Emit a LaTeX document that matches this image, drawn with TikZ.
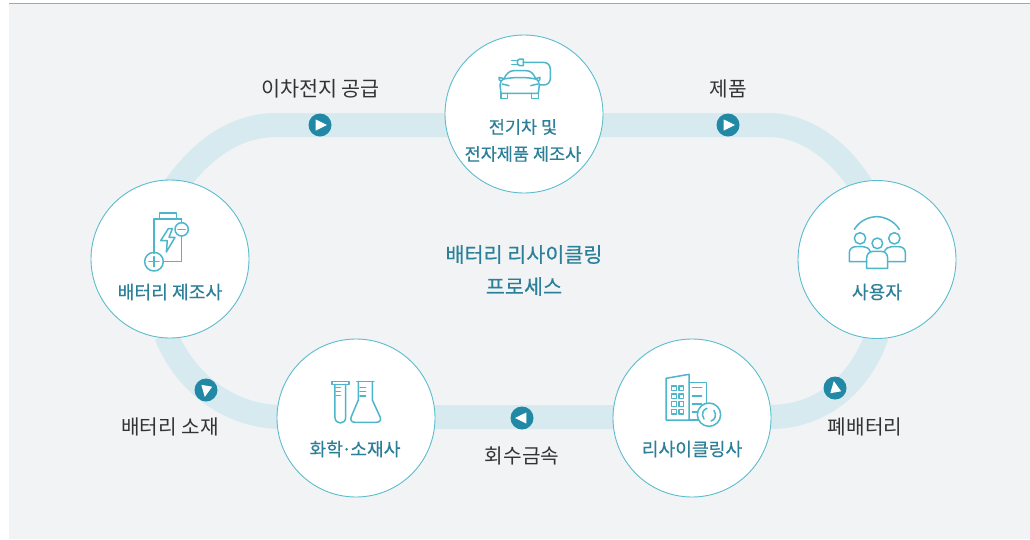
\documentclass[tikz,border=0pt]{standalone}
\usepackage{fontspec}
\setmainfont{Noto Sans CJK KR}
\newfontfamily\krm[FakeBold=0.3]{Noto Sans CJK KR}
\usetikzlibrary{calc}
\definecolor{bgc}{HTML}{F2F3F5}
\definecolor{bandc}{HTML}{D6EAEF}
\definecolor{ringc}{HTML}{5BBCCD}
\definecolor{dotc}{HTML}{2188A5}
\definecolor{labc}{HTML}{2B7F98}
\definecolor{iconc}{HTML}{4DB6CA}
\definecolor{outc}{HTML}{333333}
\tikzset{
  station/.style={circle,draw=ringc,line width=0.9pt,fill=white,minimum size=158pt,inner sep=0pt},
  stationtext/.style={text=labc,font=\krm\fontsize{18.2}{27}\selectfont,align=center,inner sep=0pt},
  toptext/.style={text=labc,font=\krm\fontsize{17.5}{27}\selectfont,align=center,inner sep=0pt},
  outtext/.style={text=outc,font=\fontsize{20.2}{24}\selectfont,inner sep=0pt},
  titletext/.style={text=labc,font=\krm\fontsize{20.7}{32}\selectfont,align=center,inner sep=0pt},
  banddraw/.style={draw=bandc,line width=24pt},
  dot/.style={circle,fill=dotc,minimum size=23pt,inner sep=0pt},
  icon/.style={draw=iconc,line width=1.5pt,line join=round,line cap=round},
  zoomed/.style={x=0.3333pt,y=-0.3333pt}
}
\newcommand{\tri}[2]{\fill[white] ([shift={(#2:7)}]#1.center) -- ([shift={(#2+128:7)}]#1.center) -- ([shift={(#2-128:7)}]#1.center) -- cycle;}
\begin{document}
\begin{tikzpicture}[x=1pt,y=-1pt]
\useasboundingbox (0,0) rectangle (1030,539);
\fill[bgc] (9,3) rectangle (1030,539);
\draw[color=black!35,line width=1pt] (9,3.5) -- (1030,3.5);

% stations
\coordinate (ctop) at (524,114);
\coordinate (cleft) at (170,259);
\coordinate (cright) at (877,259.5);
\coordinate (cbr) at (692,418);
\coordinate (cbl) at (356,418);

% band
\coordinate (tl) at (278,125);
\coordinate (tr) at (768,125);
\coordinate (bl) at (282,417);
\coordinate (br) at (770,417);
\path[banddraw]
  (tr) -- (tl) .. controls (238,125) and (205,145) .. (174,188)
  (166,335) .. controls (186,385) and (232,417) .. (bl) -- (br) .. controls (820,417) and (860,385) .. (877,335)
  (864,190) .. controls (840,150) and (805,125) .. (tr);

\node[station] (top) at (ctop) {};
\node[station] (left) at (cleft) {};
\node[station] (right) at (cright) {};
\node[station] (recycle) at (cbr) {};
\node[station] (chem) at (cbl) {};

% labels
\node[toptext] (t1) at (523,154) {전자제품 제조사};
\node[toptext] (t1b) at (523,127) {전기차 및};
\node[stationtext] (t2) at (170,292) {배터리 제조사};
\node[stationtext] (t3) at (877,292) {사용자};
\node[stationtext] (t4) at (692,449) {리사이클링사};
\node[stationtext] (t5) at (355,449) {화학\kern-1.5pt·\kern-1.5pt소재사};
\node[titletext] (title) at (524,270.5) {배터리 리사이클링\\프로세스};
\node[outtext,font=\fontsize{20.7}{24}\selectfont] (o1) at (320.5,89) {이차전지 공급};
\node[outtext] (o2) at (728,89) {제품};
\node[outtext] (o3) at (865,427) {폐배터리};
\node[outtext] (o4) at (522,456) {회수금속};
\node[outtext] (o5) at (170,427) {배터리 소재};

% direction dots
\node[dot] (d1) at (320,125) {};
\node[dot] (d2) at (728,125) {};
\node[dot] (d3) at (835,388) {};
\node[dot] (d4) at (522,418) {};
\node[dot] (d5) at (206,390) {};
\tri{d1}{0}
\tri{d2}{0}
\tri{d3}{-100}
\tri{d4}{180}
\tri{d5}{100}

% car icon
\begin{scope}[shift={(440,30)},zoomed]
\draw[icon] (183,190) -- (180,165) .. controls (180,155) and (185,150) .. (192,146) .. controls (200,130) and (208,122) .. (222,122) -- (258,122) .. controls (272,122) and (280,130) .. (287,146) .. controls (294,150) and (298,155) .. (298,165) -- (295,190) -- cycle;
\draw[icon] (183,190) -- (183,205) -- (203,205) -- (203,190);
\draw[icon] (275,190) -- (275,205) -- (295,205) -- (295,190);
\draw[icon] (192,146) -- (177,142) -- (178,150) -- (184,153);
\draw[icon] (287,146) -- (300,142) -- (299,150) -- (294,153);
\draw[icon] (192,147) .. controls (220,141) and (260,141) .. (287,147);
\draw[icon] (187,162) -- (207,167);
\draw[icon] (293,162) -- (272,167);
\draw[icon] (298,165) -- (312,165) .. controls (324,165) and (331,155) .. (331,145) -- (331,118) .. controls (331,105) and (322,97) .. (310,97) -- (250,97);
\draw[icon] (250,97) -- (250,87) -- (240,87) .. controls (234,87) and (232,92) .. (232,97) .. controls (232,102) and (234,107) .. (240,107) -- (250,107) -- cycle;
\draw[icon] (215,91) -- (232,91) (215,103) -- (232,103);
\end{scope}

% battery icon
\begin{scope}[shift={(85,200)},zoomed]
\draw[icon] (224,57) -- (224,39) -- (274,39) -- (274,57);
\draw[icon] (290,57) -- (207,57) -- (207,160);
\draw[icon] (235,184) -- (290,184) -- (290,108);
\draw[icon] (290,57) -- (290,68);
\draw[icon] (290,88) circle[radius=20];
\draw[icon] (279,88) -- (301,88);
\draw[icon] (207,185) circle[radius=28];
\draw[icon] (207,170) -- (207,200) (192,185) -- (222,185);
\draw[icon] (250,86) -- (227,122) -- (247,122) -- (244,156) -- (270,112) -- (252,112) -- (262,86) -- cycle;
\end{scope}

% people icon
\begin{scope}[shift={(795,200)},zoomed]
\draw[icon] (178,88) .. controls (195,60) and (225,50) .. (245,50) .. controls (268,50) and (297,62) .. (313,88);
\draw[icon] (195,115) circle[radius=17];
\draw[icon] (298,115) circle[radius=17];
\draw[icon] (247,130) circle[radius=16];
\draw[icon] (215,205) -- (278,205) -- (278,175) .. controls (278,162) and (270,154) .. (258,154) -- (235,154) .. controls (223,154) and (215,162) .. (215,175) -- cycle;
\draw[icon] (215,185) -- (163,185) -- (163,158) .. controls (163,147) and (172,140) .. (182,140) -- (205,140) .. controls (214,140) and (222,145) .. (226,155);
\draw[icon] (278,185) -- (331,185) -- (331,158) .. controls (331,147) and (322,140) .. (312,140) -- (290,140) .. controls (281,140) and (272,145) .. (268,155);
\end{scope}

% building icon
\begin{scope}[shift={(610,340)},zoomed]
\draw[icon] (168,240) -- (168,115) -- (237,103) -- (237,240) -- cycle;
\draw[icon] (237,127) -- (290,127) -- (290,188);
\draw[icon] (237,240) -- (265,240);
\foreach \yy in {138,162,185,208}{
  \draw[icon] (185,\yy) rectangle (199,\yy+14);
  \draw[icon] (207,\yy) rectangle (221,\yy+14);
}
\draw[icon] (247,143) -- (275,143) (247,168) -- (275,168) (247,192) -- (275,192) (247,216) -- (262,216);
\draw[icon,fill=white] (297,224) circle[radius=35];
\draw[icon] (291,205) .. controls (279,208) and (273,222) .. (282,237);
\draw[icon] (303,243) .. controls (315,240) and (321,226) .. (312,211);
\end{scope}

% flask icons
\begin{scope}[shift={(275,340)},zoomed]
\draw[icon] (171,125) -- (222,125) -- (222,133) -- (171,133) -- cycle;
\draw[icon] (180,133) -- (180,232) .. controls (180,243) and (188,249) .. (196,249) .. controls (205,249) and (212,243) .. (212,232) -- (212,133);
\draw[icon] (183,143) -- (196,143) (183,155) -- (196,155) (183,167) -- (196,167);
\draw[icon] (245,124) -- (297,124);
\draw[icon] (250,124) -- (250,180) -- (229,230) .. controls (224,240) and (230,247) .. (240,247) -- (304,247) .. controls (314,247) and (320,240) .. (315,230) -- (292,180) -- (292,124);
\draw[icon] (255,143) -- (272,143) (255,155) -- (272,155) (255,168) -- (272,168);
\end{scope}
\end{tikzpicture}
\end{document}
